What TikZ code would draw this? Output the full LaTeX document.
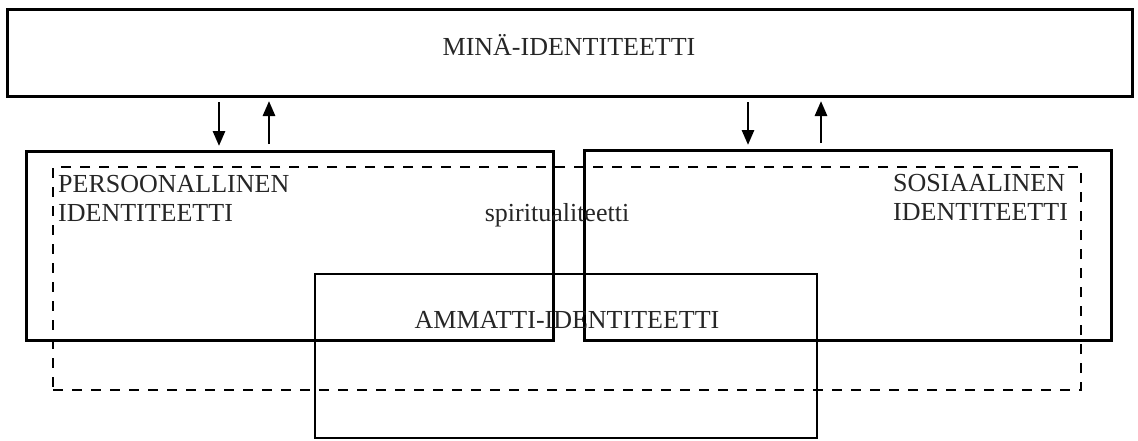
\documentclass[tikz,border=0pt]{standalone}
\usepackage{fontspec}
\setmainfont{Liberation Serif}
\usetikzlibrary{arrows.meta}
\tikzset{
  boxthick/.style={draw, line width=3pt, inner sep=0pt, outer sep=0pt, anchor=north west},
  boxthin/.style={draw, line width=2.4pt, inner sep=0pt, outer sep=0pt, anchor=north west},
  dashbox/.style={draw, line width=2.8pt, dash pattern=on 10pt off 9pt, inner sep=0pt, outer sep=0pt, anchor=north west},
  lbl/.style={inner sep=0pt, font=\fontsize{26}{29}\selectfont, text=black!85},
  arr/.style={line width=2.8pt, -{Triangle[length=15pt,width=12pt]}}
}
\begin{document}
\begin{tikzpicture}[x=1pt,y=-1pt]
\useasboundingbox (0,0) rectangle (1138,440);
% boxes
\node[boxthick, minimum width=1125pt, minimum height=87pt] (mina) at (7,9) {};
\node[boxthick, minimum width=527pt, minimum height=189pt] (pers) at (26,151) {};
\node[boxthick, minimum width=527pt, minimum height=190pt] (sos) at (584,150) {};
\node[dashbox, minimum width=1028pt, minimum height=223pt] (spir) at (53,167) {};
\node[boxthin, minimum width=502pt, minimum height=164pt] (amm) at (315,274) {};
% labels
\node[lbl, anchor=base] (tmina) at (569,55) {MINÄ-IDENTITEETTI};
\node[lbl, anchor=base west, align=left] (tpers) at (58,221) {PERSOONALLINEN\\IDENTITEETTI};
\node[lbl, anchor=base west, align=left] (tsos) at (893,220) {SOSIAALINEN\\IDENTITEETTI};
\node[lbl, anchor=base] (tspir) at (557,221) {spiritualiteetti};
\node[lbl, anchor=base] (tamm) at (567,328) {AMMATTI-IDENTITEETTI};
% arrow x positions
\coordinate (a1) at (219,0);
\coordinate (a2) at (269,0);
\coordinate (a3) at (748,0);
\coordinate (a4) at (821,0);
\draw[arr] ([yshift=-6pt]mina.south -| a1) -- ([yshift=5pt]pers.north -| a1);
\draw[arr] ([yshift=7pt]pers.north -| a2) -- ([yshift=-5pt]mina.south -| a2);
\draw[arr] ([yshift=-6pt]mina.south -| a3) -- ([yshift=5pt]sos.north -| a3);
\draw[arr] ([yshift=7pt]sos.north -| a4) -- ([yshift=-5pt]mina.south -| a4);
\end{tikzpicture}
\end{document}
